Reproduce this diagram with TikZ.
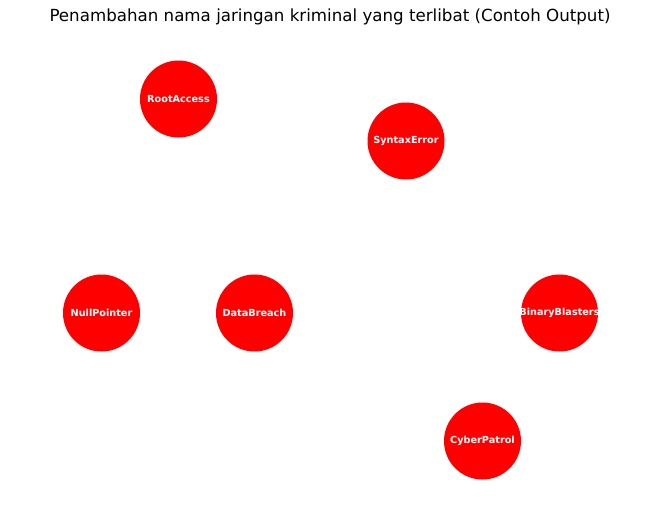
\documentclass[tikz,border=0pt]{standalone}
\usepackage{fontspec}
\setmainfont{DejaVu Sans}
\usetikzlibrary{positioning}

\begin{document}
\begin{tikzpicture}[x=1pt,y=-1pt,
  member/.style={circle,fill=red,minimum size=77pt,inner sep=0pt,
                 text=white,font=\fontsize{9.7}{11}\selectfont\bfseries},
  ttl/.style={font=\fontsize{16.67}{19}\selectfont,inner sep=0pt}]
\useasboundingbox (0,0) rectangle (660,520);
\node[ttl] (title) at (330,17) {Penambahan nama jaringan kriminal yang terlibat (Contoh Output)};
\node[member] (root) at (178.5,99) {RootAccess};
\node[member] (syntax) at (406,141) {SyntaxError};
\node[member] (null) at (101.5,313) {NullPointer};
\node[member] (breach) at (254.5,313) {DataBreach};
\node[member] (binary) at (559.5,313) {\makebox[0pt]{BinaryBlasters}};
\node[member] (patrol) at (482.5,441) {CyberPatrol};
\end{tikzpicture}
\end{document}
